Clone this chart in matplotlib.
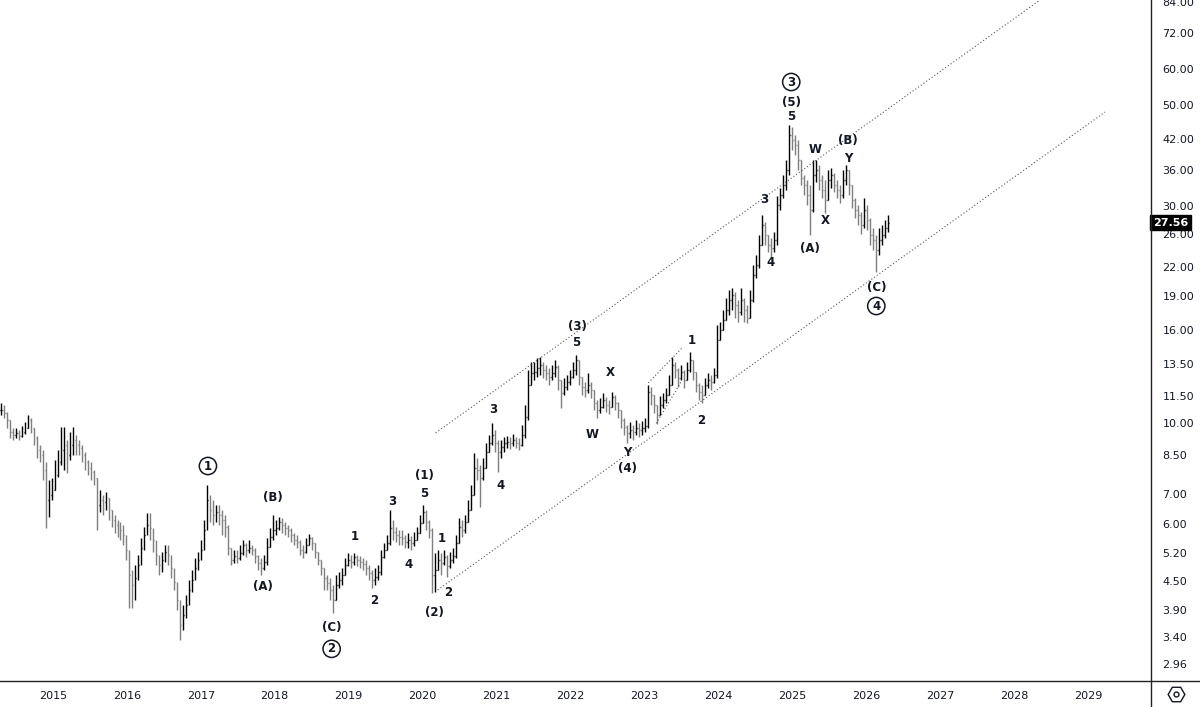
import matplotlib
matplotlib.use("Agg")
from matplotlib import pyplot as plt
from matplotlib.lines import Line2D
import matplotlib.dates as mdates
import matplotlib.transforms as mtransforms
import numpy as np
import pandas as pd

# Bi-weekly price bars (close, high, low), April 2014 -> April 2026
closes = [
    10.70, 10.54, 10.17, 9.57, 9.43, 9.53, 9.38, 9.57, 9.77, 10.17,
    9.77, 9.29, 8.74, 8.52, 7.90, 6.79, 6.97, 7.15, 7.70, 8.23,
    8.74, 8.97, 8.52, 8.97, 9.20, 8.97, 8.83, 8.52, 8.23, 7.98,
    7.82, 7.59, 6.62, 6.79, 6.72, 6.86, 6.46, 6.14, 5.99, 5.90,
    5.84, 5.70, 5.28, 4.65, 4.42, 4.58, 4.89, 5.33, 5.70, 5.99,
    5.90, 5.55, 5.15, 4.89, 5.02, 5.23, 5.15, 4.82, 4.49, 4.10,
    3.61, 3.80, 4.00, 4.31, 4.53, 4.82, 5.02, 5.28, 5.84, 6.79,
    6.46, 6.30, 6.40, 6.30, 6.14, 5.93, 5.33, 5.02, 5.12, 5.07,
    5.20, 5.41, 5.28, 5.33, 5.28, 5.12, 4.94, 4.82, 4.97, 5.36,
    5.64, 5.84, 5.90, 6.08, 5.99, 5.90, 5.84, 5.70, 5.55, 5.49,
    5.28, 5.23, 5.41, 5.61, 5.47, 5.23, 5.02, 4.82, 4.58, 4.46,
    4.31, 4.10, 4.42, 4.53, 4.65, 4.89, 5.02, 4.97, 5.10, 5.02,
    4.97, 4.92, 4.82, 4.70, 4.53, 4.60, 4.72, 5.10, 5.28, 5.47,
    5.90, 5.78, 5.70, 5.64, 5.61, 5.49, 5.55, 5.47, 5.55, 5.75,
    6.05, 6.40, 6.08, 5.84, 4.65, 4.77, 5.02, 4.94, 5.10, 4.86,
    5.02, 5.12, 5.47, 5.93, 5.84, 6.08, 6.46, 6.97, 7.98, 7.90,
    7.59, 7.98, 8.65, 9.06, 9.43, 9.06, 8.65, 8.88, 9.06, 9.11,
    9.06, 9.20, 9.06, 8.97, 9.43, 10.33, 12.14, 12.91, 12.97, 13.23,
    13.43, 13.10, 12.91, 12.64, 12.91, 13.30, 12.45, 11.66, 12.02, 12.33,
    12.64, 13.10, 13.78, 12.64, 12.02, 11.84, 12.14, 11.84, 11.09, 10.70,
    10.87, 11.26, 10.98, 10.87, 11.43, 11.09, 10.70, 10.17, 9.82, 9.53,
    9.67, 9.57, 9.77, 9.67, 9.77, 9.87, 11.72, 11.55, 10.98, 10.43,
    10.98, 11.26, 11.55, 12.14, 13.43, 13.10, 12.58, 12.97, 12.45, 13.10,
    13.78, 12.97, 12.14, 11.72, 11.55, 12.14, 12.45, 12.33, 12.77, 15.24,
    16.03, 16.86, 17.74, 18.65, 19.14, 18.19, 17.56, 18.65, 17.74, 17.03,
    18.65, 21.16, 22.26, 24.63, 27.24, 25.90, 24.63, 24.25, 25.26, 30.14,
    31.70, 33.35, 35.97, 42.91, 41.85, 40.80, 37.83, 34.54, 33.35, 31.70,
    29.38, 35.07, 35.97, 34.20, 32.51, 30.91, 34.20, 35.07, 33.35, 32.51,
    31.70, 34.20, 35.97, 33.35, 30.91, 29.38, 28.65, 27.24, 29.38, 27.94,
    25.90, 25.26, 24.01, 25.26, 25.90, 26.83, 27.56,
]
highs = [
    11.09, 10.98, 10.59, 9.92, 9.77, 9.77, 9.67, 9.87, 10.07, 10.43,
    10.27, 9.77, 9.38, 8.97, 8.74, 8.23, 7.52, 7.59, 8.31, 8.74,
    9.82, 9.82, 9.20, 9.57, 9.82, 9.43, 9.20, 8.97, 8.65, 8.31,
    8.23, 7.90, 7.52, 7.15, 6.97, 7.08, 6.79, 6.46, 6.30, 6.14,
    6.08, 5.99, 5.70, 5.28, 4.77, 4.89, 5.15, 5.61, 5.93, 6.37,
    6.37, 5.90, 5.41, 5.15, 5.23, 5.41, 5.41, 5.07, 4.77, 4.42,
    4.10, 4.00, 4.20, 4.53, 4.77, 5.07, 5.23, 5.55, 6.14, 7.33,
    6.97, 6.79, 6.62, 6.62, 6.46, 6.30, 5.99, 5.28, 5.28, 5.28,
    5.41, 5.55, 5.47, 5.55, 5.41, 5.33, 5.15, 5.07, 5.15, 5.61,
    5.90, 6.30, 6.14, 6.23, 6.20, 6.08, 5.99, 5.90, 5.75, 5.70,
    5.55, 5.41, 5.61, 5.72, 5.64, 5.41, 5.23, 5.02, 4.77, 4.65,
    4.58, 4.42, 4.65, 4.72, 4.82, 5.07, 5.20, 5.15, 5.20, 5.15,
    5.12, 5.07, 5.02, 4.89, 4.77, 4.82, 4.89, 5.28, 5.47, 5.70,
    6.46, 6.14, 5.93, 5.84, 5.84, 5.70, 5.75, 5.67, 5.78, 5.93,
    6.30, 6.62, 6.46, 6.14, 5.90, 5.20, 5.28, 5.20, 5.28, 5.15,
    5.23, 5.33, 5.70, 6.20, 6.14, 6.30, 6.79, 7.33, 8.61, 8.39,
    8.10, 8.39, 9.06, 9.43, 10.02, 9.67, 9.20, 9.20, 9.33, 9.38,
    9.33, 9.48, 9.33, 9.29, 9.92, 10.98, 13.10, 13.64, 13.64, 13.92,
    13.99, 13.64, 13.43, 13.23, 13.43, 13.78, 13.43, 12.45, 12.58, 12.77,
    13.10, 13.64, 14.13, 13.64, 12.58, 12.33, 12.91, 12.33, 11.84, 11.26,
    11.38, 11.66, 11.43, 11.26, 11.72, 11.55, 11.15, 10.70, 10.27, 9.92,
    10.07, 9.92, 10.17, 10.02, 10.12, 10.27, 12.14, 12.02, 11.55, 10.98,
    11.49, 11.66, 11.96, 12.77, 13.99, 13.64, 13.23, 13.43, 13.10, 13.64,
    14.34, 13.64, 12.97, 12.27, 12.14, 12.58, 12.91, 12.77, 13.23, 16.44,
    16.69, 17.74, 18.84, 19.62, 19.82, 19.43, 18.65, 19.82, 18.84, 18.19,
    19.62, 22.26, 23.41, 25.90, 28.65, 27.66, 25.90, 25.51, 26.29, 31.53,
    32.84, 35.07, 37.83, 45.10, 44.66, 42.91, 41.85, 37.83, 35.07, 34.20,
    33.35, 37.83, 37.83, 36.88, 35.07, 34.20, 35.97, 36.33, 35.43, 34.20,
    33.35, 35.97, 36.88, 35.97, 33.35, 31.22, 30.14, 29.09, 31.22, 30.14,
    28.22, 26.83, 25.90, 26.83, 27.24, 27.94, 28.65,
]
lows = [
    10.43, 10.27, 9.77, 9.29, 9.20, 9.29, 9.20, 9.33, 9.48, 9.77,
    9.53, 8.97, 8.39, 8.23, 7.52, 5.90, 6.23, 6.79, 7.33, 7.63,
    8.10, 7.90, 7.78, 8.31, 8.52, 8.52, 8.52, 8.23, 7.90, 7.70,
    7.52, 7.33, 5.84, 6.40, 6.30, 6.46, 6.14, 5.93, 5.75, 5.64,
    5.55, 5.41, 5.02, 3.94, 3.94, 4.10, 4.53, 5.02, 5.28, 5.70,
    5.55, 5.23, 4.89, 4.65, 4.72, 4.97, 4.89, 4.58, 4.31, 3.90,
    3.35, 3.52, 3.74, 4.00, 4.27, 4.53, 4.77, 5.02, 5.41, 5.99,
    6.08, 5.99, 6.08, 5.99, 5.70, 5.64, 5.15, 4.89, 4.94, 4.94,
    5.02, 5.15, 5.10, 5.20, 5.15, 4.94, 4.77, 4.65, 4.77, 4.89,
    5.41, 5.55, 5.70, 5.84, 5.75, 5.70, 5.64, 5.49, 5.41, 5.33,
    5.15, 5.07, 5.20, 5.41, 5.28, 5.07, 4.89, 4.65, 4.31, 4.31,
    4.10, 3.84, 4.14, 4.35, 4.42, 4.65, 4.86, 4.82, 4.89, 4.86,
    4.82, 4.77, 4.65, 4.53, 4.35, 4.42, 4.53, 4.65, 5.07, 5.28,
    5.41, 5.55, 5.49, 5.41, 5.41, 5.33, 5.33, 5.28, 5.38, 5.55,
    5.84, 6.14, 5.84, 5.61, 4.25, 4.27, 4.77, 4.65, 4.89, 4.60,
    4.82, 4.94, 5.07, 5.55, 5.64, 5.75, 6.08, 6.46, 6.97, 7.52,
    6.56, 7.52, 8.10, 8.65, 8.97, 8.65, 7.82, 8.39, 8.65, 8.83,
    8.79, 8.92, 8.83, 8.74, 8.92, 9.29, 10.17, 12.14, 12.45, 12.64,
    12.77, 12.58, 12.45, 12.14, 12.45, 12.64, 11.84, 10.81, 11.55, 11.84,
    12.14, 12.58, 12.77, 12.14, 11.55, 11.43, 11.66, 11.38, 10.70, 10.27,
    10.54, 10.81, 10.59, 10.49, 10.98, 10.70, 10.27, 9.77, 9.43, 9.06,
    9.29, 9.20, 9.43, 9.33, 9.43, 9.57, 9.77, 10.98, 10.54, 9.97,
    10.43, 10.81, 11.09, 11.55, 12.45, 12.58, 12.02, 12.45, 11.96, 12.58,
    12.97, 12.45, 11.72, 11.26, 11.09, 11.66, 11.96, 11.84, 12.27, 12.58,
    15.24, 16.03, 16.86, 17.30, 17.74, 17.03, 16.69, 17.30, 16.69, 16.61,
    17.03, 18.46, 20.84, 21.92, 24.63, 24.63, 23.77, 23.18, 23.77, 24.63,
    29.38, 31.22, 32.51, 35.07, 39.79, 38.80, 35.97, 33.35, 31.70, 30.14,
    25.90, 29.09, 33.86, 32.51, 31.22, 28.94, 31.22, 32.84, 32.18, 31.22,
    30.45, 31.22, 33.35, 31.70, 29.68, 28.22, 27.24, 26.03, 26.83, 26.56,
    24.63, 24.01, 21.49, 23.41, 24.63, 25.51, 26.29,
]
first_bar = "2014-04-18"
last_bar = "2026-04-17"
last_price = 27.56

price_ticks = [2.96, 3.40, 3.90, 4.50, 5.20, 6.00, 7.00, 8.50, 10.00, 11.50,
               13.50, 16.00, 19.00, 22.00, 26.00, 30.00, 36.00, 42.00, 50.00,
               60.00, 72.00, 84.00]
year_ticks = list(range(2015, 2030))

# trend lines: (date, price) anchors
channel_lines = [
    [("2020-03-06", 9.53), ("2028-05-08", 84.9)],   # upper channel
    [("2020-03-16", 4.31), ("2029-03-25", 48.2)],   # lower channel
    [("2023-01-20", 12.27), ("2023-07-10", 14.7)],  # small wedge, top
    [("2023-02-28", 10.0), ("2023-07-05", 12.4)],   # small wedge, bottom
]

# wave labels: (date, price, text, circled)
wave_labels = [
    ("2017-02-05", 8.06, "1", True), ("2017-12-21", 6.89, "(B)", False),
    ("2017-11-06", 4.38, "(A)", False), ("2018-10-09", 3.57, "(C)", False),
    ("2018-10-09", 3.20, "2", True), ("2019-01-30", 5.64, "1", False),
    ("2019-05-08", 4.08, "2", False), ("2019-08-06", 6.72, "3", False),
    ("2019-10-23", 4.89, "4", False), ("2020-01-10", 7.67, "(1)", False),
    ("2020-01-10", 7.01, "5", False), ("2020-04-04", 5.58, "1", False),
    ("2020-05-05", 4.25, "2", False), ("2020-03-01", 3.84, "(2)", False),
    ("2020-12-16", 10.75, "3", False), ("2021-01-20", 7.29, "4", False),
    ("2022-02-04", 16.27, "(3)", False), ("2022-01-30", 15.01, "5", False),
    ("2022-07-17", 12.90, "X", False), ("2022-04-19", 9.43, "W", False),
    ("2022-10-09", 8.61, "Y", False), ("2022-10-09", 7.94, "(4)", False),
    ("2023-08-24", 15.16, "1", False), ("2023-10-09", 10.12, "2", False),
    ("2024-08-15", 31.06, "3", False), ("2024-09-13", 22.49, "4", False),
    ("2024-12-26", 56.1, "3", True), ("2024-12-26", 50.7, "(5)", False),
    ("2024-12-26", 47.2, "5", False), ("2025-04-23", 39.79, "W", False),
    ("2025-10-03", 41.85, "(B)", False), ("2025-10-03", 38.21, "Y", False),
    ("2025-06-12", 27.80, "X", False), ("2025-03-26", 24.25, "(A)", False),
    ("2026-02-19", 19.82, "(C)", False), ("2026-02-19", 18.09, "4", True),
]

text_color = "#131722"
fig = plt.figure(figsize=(12, 7.07), dpi=100)
ax = fig.add_axes([0, 1 - 681 / 707, 1150 / 1200, 681 / 707])

x = mdates.date2num(pd.date_range(first_bar, last_bar, periods=len(closes)).to_pydatetime())
c = np.array(closes)
o = np.concatenate([[c[0]], c[:-1]])
h = np.maximum.reduce([np.array(highs), o, c])
l = np.minimum.reduce([np.array(lows), o, c])
colors = np.where(c >= o, "#000000", "#7f7f7f")
tick = 4.5
ax.vlines(x, l, h, colors=colors, lw=1.0)
ax.hlines(o, x - tick, x, colors=colors, lw=1.0)
ax.hlines(c, x, x + tick, colors=colors, lw=1.0)

for line in channel_lines:
    xs = mdates.date2num([pd.Timestamp(d) for d, p in line])
    ax.plot(xs, [p for d, p in line], color="#555555", lw=0.8, ls=(0, (1, 2)))

for d, p, t, circ in wave_labels:
    xd = mdates.date2num(pd.Timestamp(d))
    if circ:
        ax.text(xd, p, t, ha="center", va="center", fontsize=8.5, fontweight="bold",
                color=text_color,
                bbox=dict(boxstyle="circle,pad=0.18", fc="white", ec=text_color, lw=1.1))
    else:
        ax.text(xd, p, t, ha="center", va="center", fontsize=8.5, fontweight="bold",
                color=text_color)

ax.set_yscale("log")
ax.set_ylim(2.72, 84.9)
ax.set_xlim(mdates.date2num(pd.Timestamp("2014-04-15")),
            mdates.date2num(pd.Timestamp("2029-11-02")))
ax.yaxis.tick_right()
ax.set_yticks(price_ticks)
ax.set_yticklabels([f"{v:.2f}" for v in price_ticks])
ax.yaxis.set_minor_locator(matplotlib.ticker.NullLocator())
ax.set_xticks(mdates.date2num([pd.Timestamp(f"{y}-01-01") for y in year_ticks]))
ax.set_xticklabels([str(y) for y in year_ticks])
ax.tick_params(axis="y", length=0, pad=9, labelsize=8, labelcolor=text_color)
ax.tick_params(axis="x", length=0, pad=7, labelsize=8, labelcolor=text_color)
for s in ["top", "left", "right", "bottom"]:
    ax.spines[s].set_visible(False)

# current price tag
trans = mtransforms.blended_transform_factory(ax.transAxes, ax.transData)
ax.text(1.0025, last_price, f"{last_price:.2f}", transform=trans, ha="left", va="center",
        fontsize=8, fontweight="bold", color="white", clip_on=False, zorder=10,
        bbox=dict(boxstyle="square,pad=0.22", fc="#000000", ec="#000000"))

# frame lines and corner icon
fig.add_artist(Line2D([0, 1], [1 - 681 / 707] * 2, color="#222222", lw=1.0,
                      transform=fig.transFigure))
fig.add_artist(Line2D([1151 / 1200] * 2, [0, 1], color="#222222", lw=1.0,
                      transform=fig.transFigure))
fig.add_artist(Line2D([1176 / 1200], [1 - 694 / 707], marker="H", ms=12, mfc="none",
                      mec=text_color, mew=1.0, transform=fig.transFigure))
fig.add_artist(Line2D([1176 / 1200], [1 - 694 / 707], marker="o", ms=3.5, mfc="none",
                      mec=text_color, mew=1.0, transform=fig.transFigure))

fig.savefig("out.png", dpi=100, facecolor="white")
